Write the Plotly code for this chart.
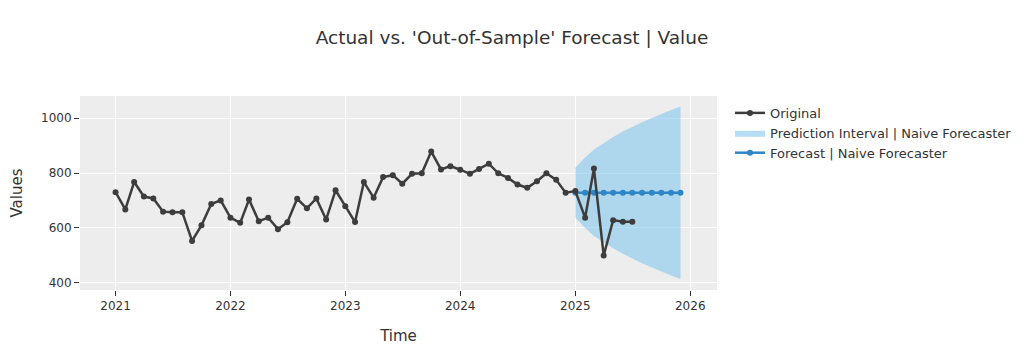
import plotly.graph_objects as go
import pandas as pd

# ---- data ----
actual_dates = pd.date_range("2021-01-01", "2025-07-01", freq="MS")
actual_values = [
    730, 667, 767, 714, 707, 659, 657, 657, 552, 609, 687, 700,   # 2021
    637, 618, 703, 624, 637, 595, 620, 706, 671, 707, 630, 737,   # 2022
    679, 621, 767, 710, 785, 792, 761, 797, 799, 878, 813, 825,   # 2023
    812, 797, 815, 834, 799, 782, 758, 746, 770, 799, 775, 728,   # 2024
    734, 637, 816, 499, 628, 622, 622,                            # 2025
]

forecast_dates = pd.date_range("2025-01-01", "2025-12-01", freq="MS")
forecast_values = [728] * 12
upper_values = [819, 857, 886, 910, 931, 951, 969, 985, 1001, 1016, 1030, 1043]
lower_values = [637, 599, 570, 546, 525, 505, 487, 471, 455, 440, 426, 413]

x_ticks = ["2021", "2022", "2023", "2024", "2025", "2026"]
y_ticks = [400, 600, 800, 1000]

FONT = "Verdana, DejaVu Sans, sans-serif"
GREY = "rgb(61,61,61)"
BLUE = "rgb(46,134,198)"
BAND = "rgba(135,200,235,0.62)"

band = go.Scatter(
    x=list(forecast_dates) + list(forecast_dates[::-1]),
    y=upper_values + lower_values[::-1],
    fill="toself", fillcolor=BAND, mode="lines", line=dict(width=0, color=BAND),
    name="Prediction Interval | Naive Forecaster", hoverinfo="skip", legendrank=2,
)
forecast = go.Scatter(
    x=forecast_dates, y=forecast_values, mode="lines+markers",
    name="Forecast | Naive Forecaster",
    line=dict(color=BLUE, width=2.5), marker=dict(color=BLUE, size=6), legendrank=3,
)
original = go.Scatter(
    x=actual_dates, y=actual_values, mode="lines+markers", name="Original",
    line=dict(color=GREY, width=2.5), marker=dict(color=GREY, size=6), legendrank=1,
)

fig = go.Figure([band, forecast, original])

fig.update_layout(
    template="ggplot2",
    width=1008, height=339,
    margin=dict(l=72, r=299, t=88, b=57, autoexpand=False),
    font=dict(family=FONT, size=12, color="rgb(51,51,51)"),
    title=dict(text="Actual vs. 'Out-of-Sample' Forecast | Value",
               x=0.5, xref="container", y=1 - 30 / 339, yref="container",
               yanchor="middle", xanchor="center",
               font=dict(family=FONT, size=18.5, color="rgb(51,51,51)")),
    xaxis=dict(title=dict(text="Time", font=dict(size=15), standoff=18),
               automargin=False,
               range=["2020-09-10", "2026-03-27"],
               tickvals=[pd.Timestamp(t + "-01-01") for t in x_ticks],
               ticktext=x_ticks),
    yaxis=dict(title=dict(text="Values", font=dict(size=15), standoff=24),
               automargin=False,
               range=[373, 1081], tickvals=y_ticks),
    legend=dict(font=dict(size=13), xref="container", x=0.7163, xanchor="left",
                yref="paper", y=0.99, yanchor="top", traceorder="normal",
                bgcolor="rgba(0,0,0,0)"),
    showlegend=True,
)

fig.write_html("out.html")
